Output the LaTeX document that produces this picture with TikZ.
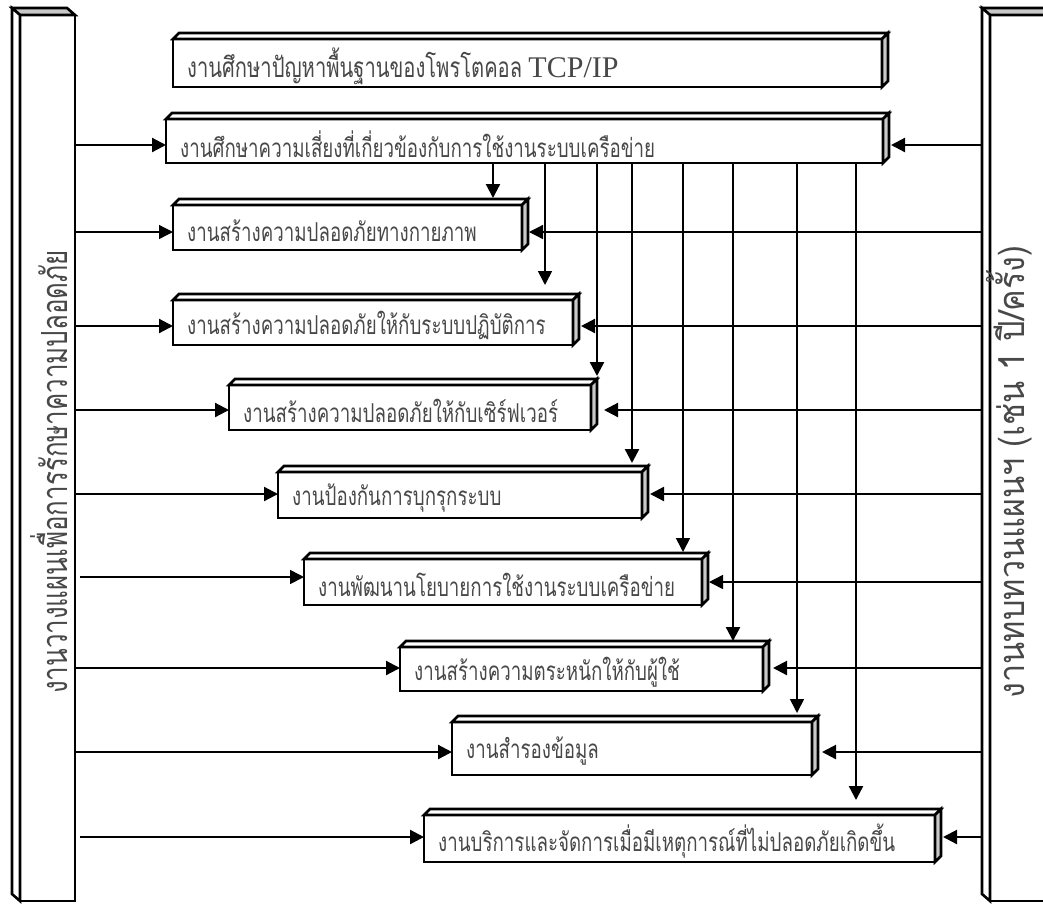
\documentclass[tikz,border=0pt]{standalone}
\usepackage{fontspec}
\setmainfont{Liberation Serif}
\newfontfamily\thaifont[Script=Thai,FakeStretch=0.72]{Loma}
\newfontfamily\thaiwide[Script=Thai,FakeStretch=0.9]{Loma}
\usetikzlibrary{arrows.meta,calc}
\definecolor{facegray}{HTML}{C8C8C8}
\definecolor{inkgray}{HTML}{484848}
\tikzset{
  outline/.style={line width=2.6pt, line join=miter},
  frontbox/.style={draw, outline, fill=white, anchor=north west, outer sep=0pt, inner sep=0pt},
  boxtext/.style={anchor=west, inner sep=0pt, text=inkgray, font=\thaifont\fontsize{26}{29}\selectfont},
  bartext/.style={inner sep=0pt, text=inkgray, rotate=90, font=\thaifont\fontsize{36}{40}\selectfont},
  conn/.style={line width=2.2pt, -{Triangle[length=14pt,width=14pt]}},
  thinconn/.style={conn, line width=1.3pt},
}
% a task block: front face, white top face and grey right face
\newcommand\taskblock[6]{% name, left, top, width, height, label
  \node[frontbox, minimum width=#4pt, minimum height=#5pt] (#1) at (#2,#3) {};
  \draw[outline, fill=white] (#1.north west) -- ++(6,-6) -- ($(#1.north east)+(6,-6)$) -- (#1.north east) -- cycle;
  \draw[outline, fill=facegray] (#1.north east) -- ++(6,-6) -- ($(#1.south east)+(6,-6)$) -- (#1.south east) -- cycle;
  \node[boxtext] (#1t) at ($(#1.west)+(14,3)$) {#6};
}
\begin{document}
\begin{tikzpicture}[x=1pt,y=-1pt]
\useasboundingbox (0,0) rectangle (1043,903);
\fill[white] (0,0) rectangle (1043,903);
\clip (0,0) rectangle (1043,903);

% side bars
\node[frontbox, minimum width=55pt, minimum height=886pt] (Lbar) at (20,15) {};
\draw[outline, fill=facegray] (Lbar.north west) -- ++(-8,-7) -- ($(Lbar.north east)+(-8,-7)$) -- (Lbar.north east) -- cycle;
\draw[outline, fill=white] (Lbar.north west) -- ++(-8,-7) -- ($(Lbar.south west)+(-8,-7)$) -- (Lbar.south west) -- cycle;
\node[bartext] (Ltext) at (49,472) {งานวางแผนเพื่อการรักษาความปลอดภัย};

\node[frontbox, minimum width=64pt, minimum height=886pt] (Rbar) at (990,15) {};
\draw[outline, fill=facegray] (Rbar.north west) -- ++(-8,-7) -- ($(Rbar.north east)+(-8,-7)$) -- (Rbar.north east) -- cycle;
\draw[outline, fill=white] (Rbar.north west) -- ++(-8,-7) -- ($(Rbar.south west)+(-8,-7)$) -- (Rbar.south west) -- cycle;
\node[bartext, font=\thaiwide\fontsize{36}{40}\selectfont] (Rtext) at (1009,472) {งานทบทวนแผนฯ (เช่น 1 ปี/ครั้ง)};

% task blocks
\taskblock{b1}{173}{39}{709}{48}{{\fontsize{28}{31}\selectfont งานศึกษาปัญหาพื้นฐานของโพรโตคอล} {\rmfamily\fontsize{30}{32}\selectfont TCP/IP}}
\taskblock{b2}{166}{119}{717}{44}{งานศึกษาความเสี่ยงที่เกี่ยวข้องกับการใช้งานระบบเครือข่าย}
\taskblock{b3}{173}{205}{349}{45}{งานสร้างความปลอดภัยทางกายภาพ}
\taskblock{b4}{173}{300}{400}{45}{งานสร้างความปลอดภัยให้กับระบบปฏิบัติการ}
\taskblock{b5}{229}{385}{362}{45}{งานสร้างความปลอดภัยให้กับเซิร์ฟเวอร์}
\taskblock{b6}{278}{472}{364}{46}{งานป้องกันการบุกรุกระบบ}
\taskblock{b7}{304}{559}{398}{46}{งานพัฒนานโยบายการใช้งานระบบเครือข่าย}
\taskblock{b8}{400}{647}{363}{44}{งานสร้างความตระหนักให้กับผู้ใช้}
\taskblock{b9}{452}{722}{360}{53}{งานสำรองข้อมูล}
\taskblock{b10}{424}{815}{511}{47}{งานบริการและจัดการเมื่อมีเหตุการณ์ที่ไม่ปลอดภัยเกิดขึ้น}

% row levels of the horizontal connectors
\coordinate (r2) at (0,145);
\coordinate (r3) at (0,232);
\coordinate (r4) at (0,326);
\coordinate (r5) at (0,410);
\coordinate (r6) at (0,494);
\coordinate (r7) at (0,577);
\coordinate (r7b) at (0,582);
\coordinate (r8) at (0,668);
\coordinate (r9) at (0,752);
\coordinate (r10) at (0,837);
\coordinate (Rside) at (982,0);

% from the planning bar
\draw[conn] (Lbar.east |- r2) -- (b2.west |- r2);
\draw[thinconn] (Lbar.east |- r3) -- (b3.west |- r3);
\draw[conn] (Lbar.east |- r4) -- (b4.west |- r4);
\draw[conn] (Lbar.east |- r5) -- (b5.west |- r5);
\draw[conn] (Lbar.east |- r6) -- (b6.west |- r6);
\draw[conn, line width=1.7pt] ($(Lbar.east |- r7)+(5,0)$) -- (b7.west |- r7);
\draw[conn] (Lbar.east |- r8) -- (b8.west |- r8);
\draw[conn] (Lbar.east |- r9) -- (b9.west |- r9);
\draw[conn] ($(Lbar.east |- r10)+(5,0)$) -- (b10.west |- r10);

% from the review bar
\draw[conn] (Rside |- r2) -- ($(b2.east |- r2)+(8,0)$);
\draw[thinconn] (Rside |- r3) -- ($(b3.east |- r3)+(7,0)$);
\draw[conn] (Rside |- r4) -- ($(b4.east |- r4)+(8,0)$);
\draw[conn] (Rside |- r5) -- ($(b5.east |- r5)+(13,0)$);
\draw[conn] (Rside |- r6) -- ($(b6.east |- r6)+(8,0)$);
\draw[conn, line width=1.6pt] (Rside |- r7b) -- ($(b7.east |- r7b)+(7,0)$);
\draw[conn] (Rside |- r8) -- ($(b8.east |- r8)+(10,0)$);
\draw[conn] (Rside |- r9) -- ($(b9.east |- r9)+(10,0)$);
\draw[conn] (Rside |- r10) -- ($(b10.east |- r10)+(8,0)$);

% risk study feeding every task below it
\coordinate (v1) at (493,0);
\coordinate (v2) at (545,0);
\coordinate (v3) at (597,0);
\coordinate (v4) at (632,0);
\coordinate (v5) at (683,0);
\coordinate (v6) at (733,0);
\coordinate (v7) at (797,0);
\coordinate (v8) at (856,0);
\foreach \col/\target/\gap/\w in {v1/b3/7/2.2, v2/b4/15/1.6, v3/b5/9/2.4, v4/b6/9/2.4, v5/b7/7/1.6, v6/b8/6/2.4, v7/b9/9/1.6, v8/b10/15/2.4}
  \draw[conn, line width=\w pt] (b2.south -| \col) -- ($(\target.north -| \col)+(0,-\gap)$);
\end{tikzpicture}
\end{document}
